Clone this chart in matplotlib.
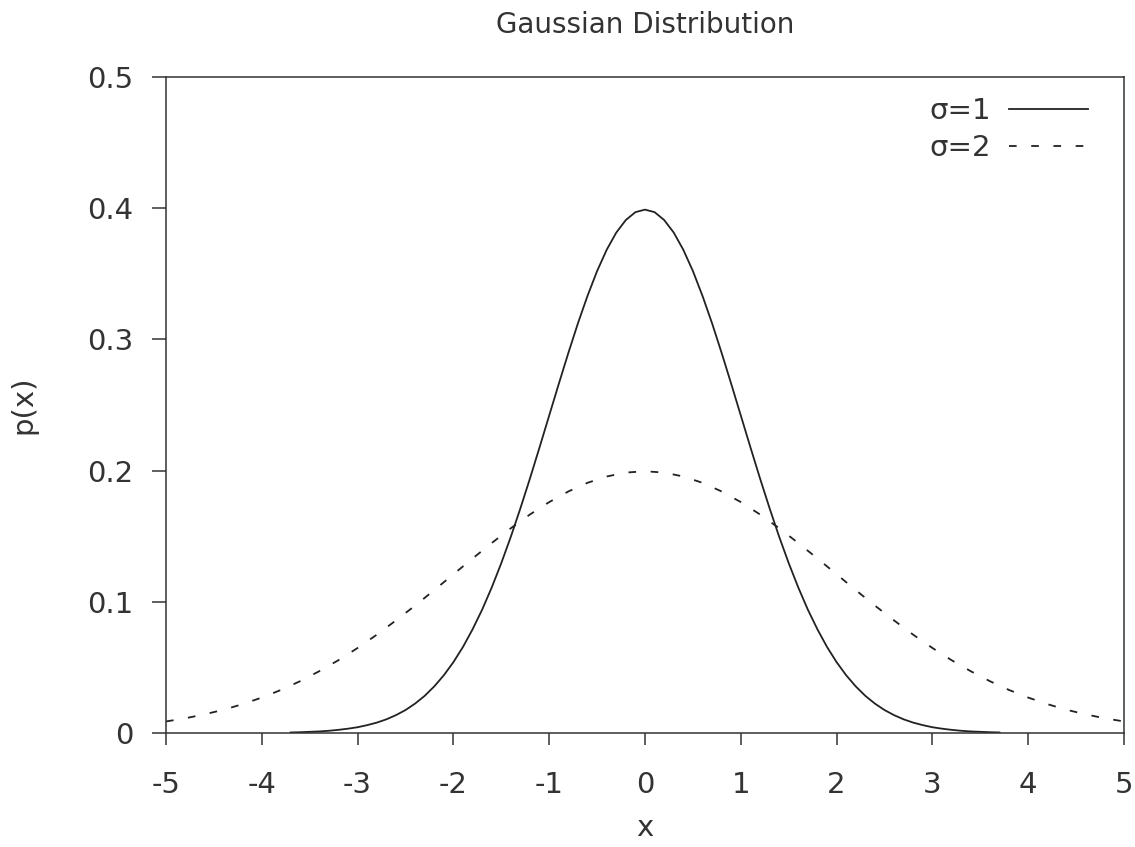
import matplotlib
matplotlib.use('Agg')
import matplotlib.pyplot as plt

# sigma = 1 curve
x_s1 = [-3.7, -3.6, -3.5, -3.4, -3.3, -3.2, -3.1, -3.0, -2.9, -2.8, -2.7, -2.6,
        -2.5, -2.4, -2.3, -2.2, -2.1, -2.0, -1.9, -1.8, -1.7, -1.6, -1.5, -1.4,
        -1.3, -1.2, -1.1, -1.0, -0.9, -0.8, -0.7, -0.6, -0.5, -0.4, -0.3, -0.2,
        -0.1, 0.0, 0.1, 0.2, 0.3, 0.4, 0.5, 0.6, 0.7, 0.8, 0.9, 1.0, 1.1, 1.2,
        1.3, 1.4, 1.5, 1.6, 1.7, 1.8, 1.9, 2.0, 2.1, 2.2, 2.3, 2.4, 2.5, 2.6,
        2.7, 2.8, 2.9, 3.0, 3.1, 3.2, 3.3, 3.4, 3.5, 3.6, 3.7]
p_s1 = [0.0004, 0.0006, 0.0009, 0.0012, 0.0017, 0.0024, 0.0033, 0.0044, 0.0060,
        0.0079, 0.0104, 0.0136, 0.0175, 0.0224, 0.0283, 0.0355, 0.0440, 0.0540,
        0.0656, 0.0790, 0.0940, 0.1109, 0.1295, 0.1497, 0.1714, 0.1942, 0.2179,
        0.2420, 0.2661, 0.2897, 0.3123, 0.3332, 0.3521, 0.3683, 0.3814, 0.3910,
        0.3970, 0.3989, 0.3970, 0.3910, 0.3814, 0.3683, 0.3521, 0.3332, 0.3123,
        0.2897, 0.2661, 0.2420, 0.2179, 0.1942, 0.1714, 0.1497, 0.1295, 0.1109,
        0.0940, 0.0790, 0.0656, 0.0540, 0.0440, 0.0355, 0.0283, 0.0224, 0.0175,
        0.0136, 0.0104, 0.0079, 0.0060, 0.0044, 0.0033, 0.0024, 0.0017, 0.0012,
        0.0009, 0.0006, 0.0004]

# sigma = 2 curve
x_s2 = [-5.0, -4.8, -4.6, -4.4, -4.2, -4.0, -3.8, -3.6, -3.4, -3.2, -3.0, -2.8,
        -2.6, -2.4, -2.2, -2.0, -1.8, -1.6, -1.4, -1.2, -1.0, -0.8, -0.6, -0.4,
        -0.2, 0.0, 0.2, 0.4, 0.6, 0.8, 1.0, 1.2, 1.4, 1.6, 1.8, 2.0, 2.2, 2.4,
        2.6, 2.8, 3.0, 3.2, 3.4, 3.6, 3.8, 4.0, 4.2, 4.4, 4.6, 4.8, 5.0]
p_s2 = [0.0088, 0.0112, 0.0142, 0.0177, 0.0220, 0.0270, 0.0328, 0.0395, 0.0471,
        0.0555, 0.0648, 0.0749, 0.0858, 0.0971, 0.1089, 0.1210, 0.1330, 0.1448,
        0.1561, 0.1666, 0.1760, 0.1841, 0.1907, 0.1955, 0.1985, 0.1995, 0.1985,
        0.1955, 0.1907, 0.1841, 0.1760, 0.1666, 0.1561, 0.1448, 0.1330, 0.1210,
        0.1089, 0.0971, 0.0858, 0.0749, 0.0648, 0.0555, 0.0471, 0.0395, 0.0328,
        0.0270, 0.0220, 0.0177, 0.0142, 0.0112, 0.0088]

x_ticks = [-5, -4, -3, -2, -1, 0, 1, 2, 3, 4, 5]
x_tick_labels = ['-5', '-4', '-3', '-2', '-1', '0', '1', '2', '3', '4', '5']
y_ticks = [0, 0.1, 0.2, 0.3, 0.4, 0.5]
y_tick_labels = ['0', '0.1', '0.2', '0.3', '0.4', '0.5']

plt.rcParams['font.family'] = ['DejaVu Sans']
plt.rcParams['lines.scale_dashes'] = False
ink = '#333333'
fs = 21

fig = plt.figure(figsize=(11.35, 8.47), dpi=100)
ax = fig.add_axes([166 / 1135, 114 / 847, (1124 - 166) / 1135, (733 - 77) / 847])

ax.plot(x_s1, p_s1, color='#222222', lw=1.3, label='σ=1')
ax.plot(x_s2, p_s2, color='#222222', lw=1.3, dashes=(5.5, 10.5), label='σ=2')

ax.set_xlim(-5, 5)
ax.set_ylim(0, 0.5)
ax.set_xticks(x_ticks)
ax.set_xticklabels(x_tick_labels)
ax.set_yticks(y_ticks)
ax.set_yticklabels(y_tick_labels)

for s in ax.spines.values():
    s.set_color(ink)
    s.set_linewidth(1.1)
ax.tick_params(axis='x', direction='out', length=8.8, width=1.1, color=ink,
               labelsize=fs, labelcolor=ink, pad=18.5)
ax.tick_params(axis='y', direction='out', length=10, width=1.1, color=ink,
               labelsize=fs, labelcolor=ink, pad=13.5)

ax.set_xlabel('x', fontsize=fs, color=ink, labelpad=11)
ax.set_ylabel('p(x)', fontsize=fs, color=ink, labelpad=36)
ax.set_title('Gaussian Distribution', fontsize=20, color=ink, pad=32)

leg = ax.legend(loc='upper right', bbox_to_anchor=(0.9624, 0.969),
                frameon=False, markerfirst=False, fontsize=fs,
                handlelength=2.7, handletextpad=0.62, labelspacing=0.31,
                borderpad=0, borderaxespad=0)
for t in leg.get_texts():
    t.set_color(ink)

fig.savefig('out.png', dpi=100)
